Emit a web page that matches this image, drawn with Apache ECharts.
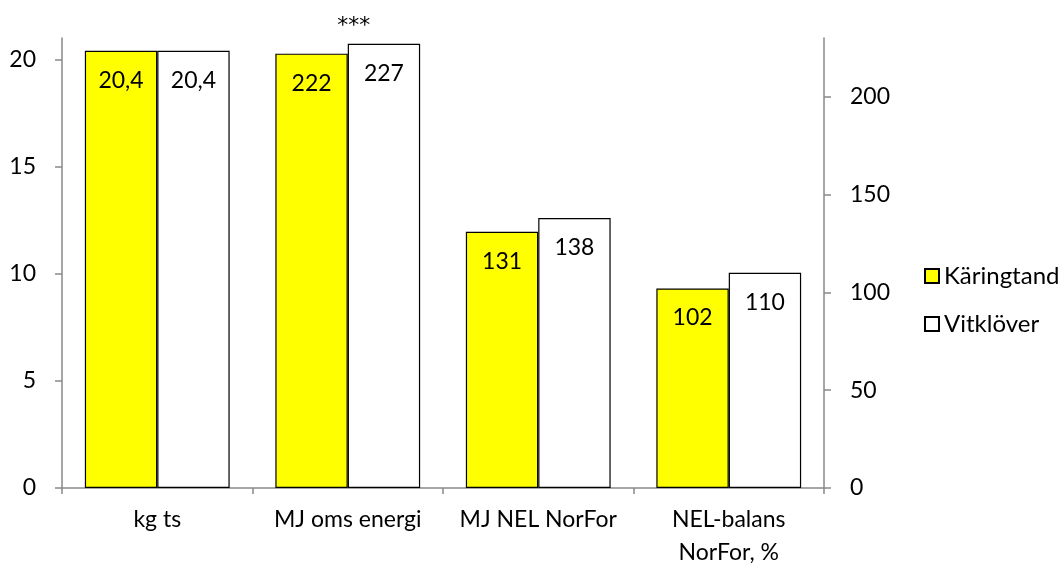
<!DOCTYPE html>
<html>
<head>
<meta charset="utf-8">
<script src="https://cdn.jsdelivr.net/npm/echarts@6/dist/echarts.min.js"></script>
<style>
  html, body { margin: 0; padding: 0; background: #ffffff; }
  #chart { width: 1062px; height: 564px; }
</style>
</head>
<body>
<div id="chart"></div>
<script>
// Feed per day, two pasture mixes
const categories = ['kg ts', 'MJ oms energi', 'MJ NEL NorFor', 'NEL-balans\nNorFor, %'];
const karingtand = [20.4, 222, 131, 102];
const vitklover = [20.4, 227, 138, 110];
// the first category is read on the left axis, the rest on the right axis
const leftAxisCount = 1;
const leftTicks = [0, 5, 10, 15, 20];
const rightTicks = [0, 50, 100, 150, 200];
const significance = '***';
const significanceCategory = 1;

const FONT = 'Lato';
const AXIS_COLOR = '#898989';

function pick(values, onLeft) {
  return values.map((v, i) => ((i < leftAxisCount) === onLeft ? v : '-'));
}

const barLabel = {
  show: true,
  position: 'insideTop',
  distance: 18,
  fontFamily: FONT,
  fontSize: 23,
  color: '#000000',
  formatter: p => String(p.value).replace('.', ',')
};

function barSeries(name, values, color, onLeft) {
  return {
    name: name,
    type: 'bar',
    xAxisIndex: onLeft ? 0 : 1,
    yAxisIndex: onLeft ? 0 : 1,
    data: pick(values, onLeft),
    barGap: '0%',
    barCategoryGap: '24%',
    itemStyle: { color: color, borderColor: '#000000', borderWidth: 1.2 },
    label: barLabel,
    emphasis: { disabled: true }
  };
}

const chart = echarts.init(document.getElementById('chart'), null, { renderer: 'canvas' });

const option = {
  animation: false,
  backgroundColor: '#ffffff',
  grid: { left: 62, right: 238, top: 38, bottom: 76, containLabel: false, outerBoundsMode: 'none' },
  legend: {
    orient: 'vertical',
    left: 919,
    top: 259,
    icon: 'rect',
    itemWidth: 14,
    itemHeight: 14,
    itemGap: 24,
    data: ['Käringtand', 'Vitklöver'],
    textStyle: { fontFamily: FONT, fontSize: 24, color: '#000000', lineHeight: 24 }
  },
  xAxis: [
    {
      type: 'category',
      data: categories,
      axisLine: { show: true, lineStyle: { color: AXIS_COLOR, width: 1.5 } },
      axisTick: { show: true, length: 6, lineStyle: { color: AXIS_COLOR, width: 1.5 } },
      axisLabel: {
        margin: 15,
        fontFamily: FONT,
        fontSize: 23,
        lineHeight: 33,
        color: '#000000',
        interval: 0
      },
      splitLine: { show: false }
    },
    {
      type: 'category',
      data: categories,
      show: false
    }
  ],
  yAxis: [
    {
      type: 'value',
      position: 'left',
      min: 0,
      max: 21,
      interval: 5,
      axisLine: { show: true, lineStyle: { color: AXIS_COLOR, width: 1.5 } },
      axisTick: { show: true, length: 7, customValues: leftTicks, lineStyle: { color: AXIS_COLOR, width: 1.5 } },
      axisLabel: { margin: 26, customValues: leftTicks, fontFamily: FONT, fontSize: 23, color: '#000000' },
      splitLine: { show: false }
    },
    {
      type: 'value',
      position: 'right',
      min: 0,
      max: 230,
      interval: 50,
      axisLine: { show: true, lineStyle: { color: AXIS_COLOR, width: 1.5 } },
      axisTick: { show: true, length: 7, customValues: rightTicks, lineStyle: { color: AXIS_COLOR, width: 1.5 } },
      axisLabel: { margin: 26, customValues: rightTicks, fontFamily: FONT, fontSize: 23, color: '#000000' },
      splitLine: { show: false }
    }
  ],
  series: [
    barSeries('Käringtand', karingtand, '#ffff00', true),
    barSeries('Vitklöver', vitklover, '#ffffff', true),
    barSeries('Käringtand', karingtand, '#ffff00', false),
    barSeries('Vitklöver', vitklover, '#ffffff', false)
  ]
};

chart.setOption(option);

// significance marker above the second group
const starX = chart.convertToPixel({ xAxisIndex: 0 }, categories[significanceCategory]);
chart.setOption({
  graphic: [{
    type: 'text',
    x: starX + 6,
    y: 26,
    style: {
      text: significance,
      font: '22px "DejaVu Sans"',
      fill: '#000000',
      align: 'center',
      verticalAlign: 'middle'
    }
  }]
});
</script>
</body>
</html>
